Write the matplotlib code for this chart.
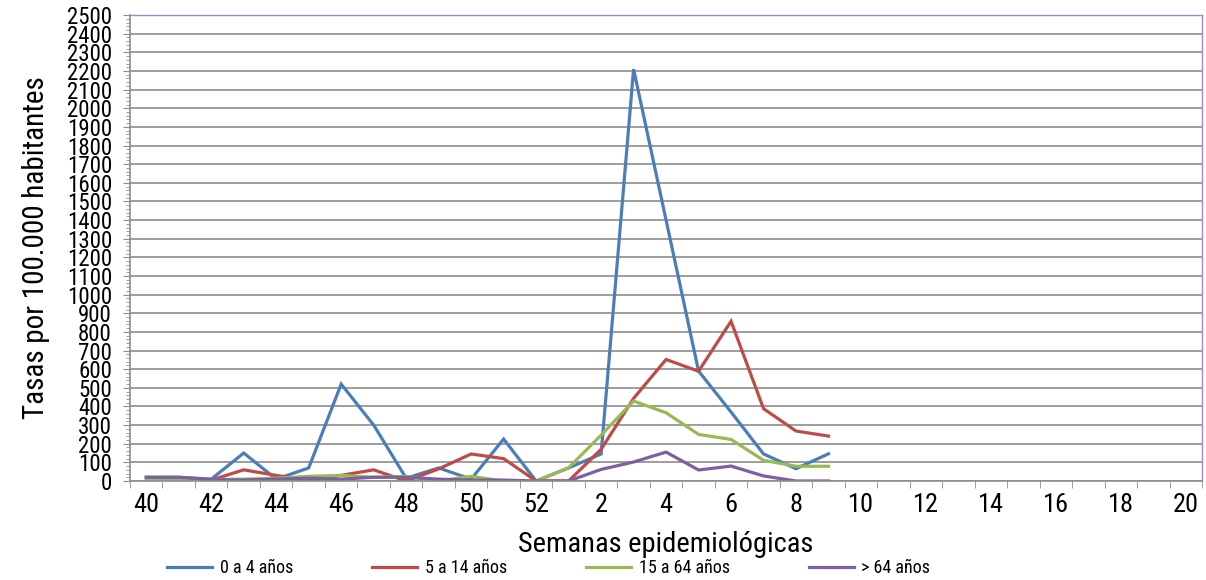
import matplotlib
matplotlib.use("Agg")
import matplotlib.pyplot as plt
from matplotlib.ticker import MultipleLocator
import numpy as np

# a narrow face, close to the original Calibri look
plt.rcParams["font.family"] = ["Liberation Sans Narrow", "DejaVu Sans Condensed",
                               "Roboto Condensed", "Open Sans Condensed", "DejaVu Sans"]
plt.rcParams["font.stretch"] = "condensed"

# ── data ────────────────────────────────────────────────────────────────────
weeks = list(range(40, 53)) + list(range(1, 21))

age_0_4   = [20, 20, 10, 150, 10, 70, 520, 300, 15, 70, 10, 225, 0,
             70, 145, 2210, 1400, 590, 370, 145, 66, 146]
age_5_14  = [0, 0, 5, 60, 30, 5, 30, 60, 0, 65, 145, 120, 0,
             0, 170, 443, 652, 589, 857, 388, 268, 241]
age_15_64 = [5, 5, 8, 10, 15, 25, 30, 20, 25, 0, 25, 0, 0,
             71, 246, 429, 366, 250, 223, 111, 79, 79]
age_64    = [20, 20, 8, 5, 10, 15, 10, 20, 20, 10, 5, 5, 0,
             0, 62, 102, 155, 59, 80, 27, 0, 0]

series = [
    ("0 a 4 años",   age_0_4,   "#4A7EBB"),
    ("5 a 14 años",  age_5_14,  "#BE4B48"),
    ("15 a 64 años", age_15_64, "#98B954"),
    ("> 64 años",    age_64,    "#7D60A0"),
]

# ── plot ────────────────────────────────────────────────────────────────────
fig = plt.figure(figsize=(12.06, 5.8), dpi=100)
ax = fig.add_axes([0.1078, 0.1707, 0.889, 0.8033])

for label, vals, color in series:
    ax.plot(np.arange(len(vals)), vals, color=color, lw=2.3, label=label,
            solid_joinstyle="miter")

ax.set_xlim(-0.5, len(weeks) - 0.5)
ax.set_ylim(0, 2500)

ax.yaxis.set_major_locator(MultipleLocator(100))
ax.yaxis.set_minor_locator(MultipleLocator(20))
ax.grid(axis="y", which="major", color="#8c8c8c", lw=1.2)
ax.set_axisbelow(True)

ax.set_xticks(np.arange(len(weeks)))
ax.set_xticklabels([str(w) if k % 2 == 0 else "" for k, w in enumerate(weeks)])
ax.set_xticks(np.arange(len(weeks) + 1) - 0.5, minor=True)
ax.tick_params(axis="x", which="major", length=0, pad=9, labelsize=19)
ax.tick_params(axis="x", which="minor", length=5, color="#8c8c8c", direction="out")
ax.tick_params(axis="y", which="major", length=5, color="#8c8c8c", labelsize=16.5, pad=8)
ax.tick_params(axis="y", which="minor", length=3, color="#8c8c8c")

for s in ("left", "bottom"):
    ax.spines[s].set_color("#8c8c8c")
    ax.spines[s].set_linewidth(1.2)
for s in ("top", "right"):
    ax.spines[s].set_color("#9F8BC0")
    ax.spines[s].set_linewidth(1.0)

ax.set_ylabel("Tasas por 100.000 habitantes", fontsize=21, labelpad=12)
ax.set_xlabel("Semanas epidemiológicas", fontsize=20.5, labelpad=10)

fig.legend(loc="center", bbox_to_anchor=(0.455, 0.02), ncol=4, frameon=False,
           fontsize=13, handlelength=2.5, columnspacing=4.4, handletextpad=0.4)

plt.savefig("out.png", dpi=100)
